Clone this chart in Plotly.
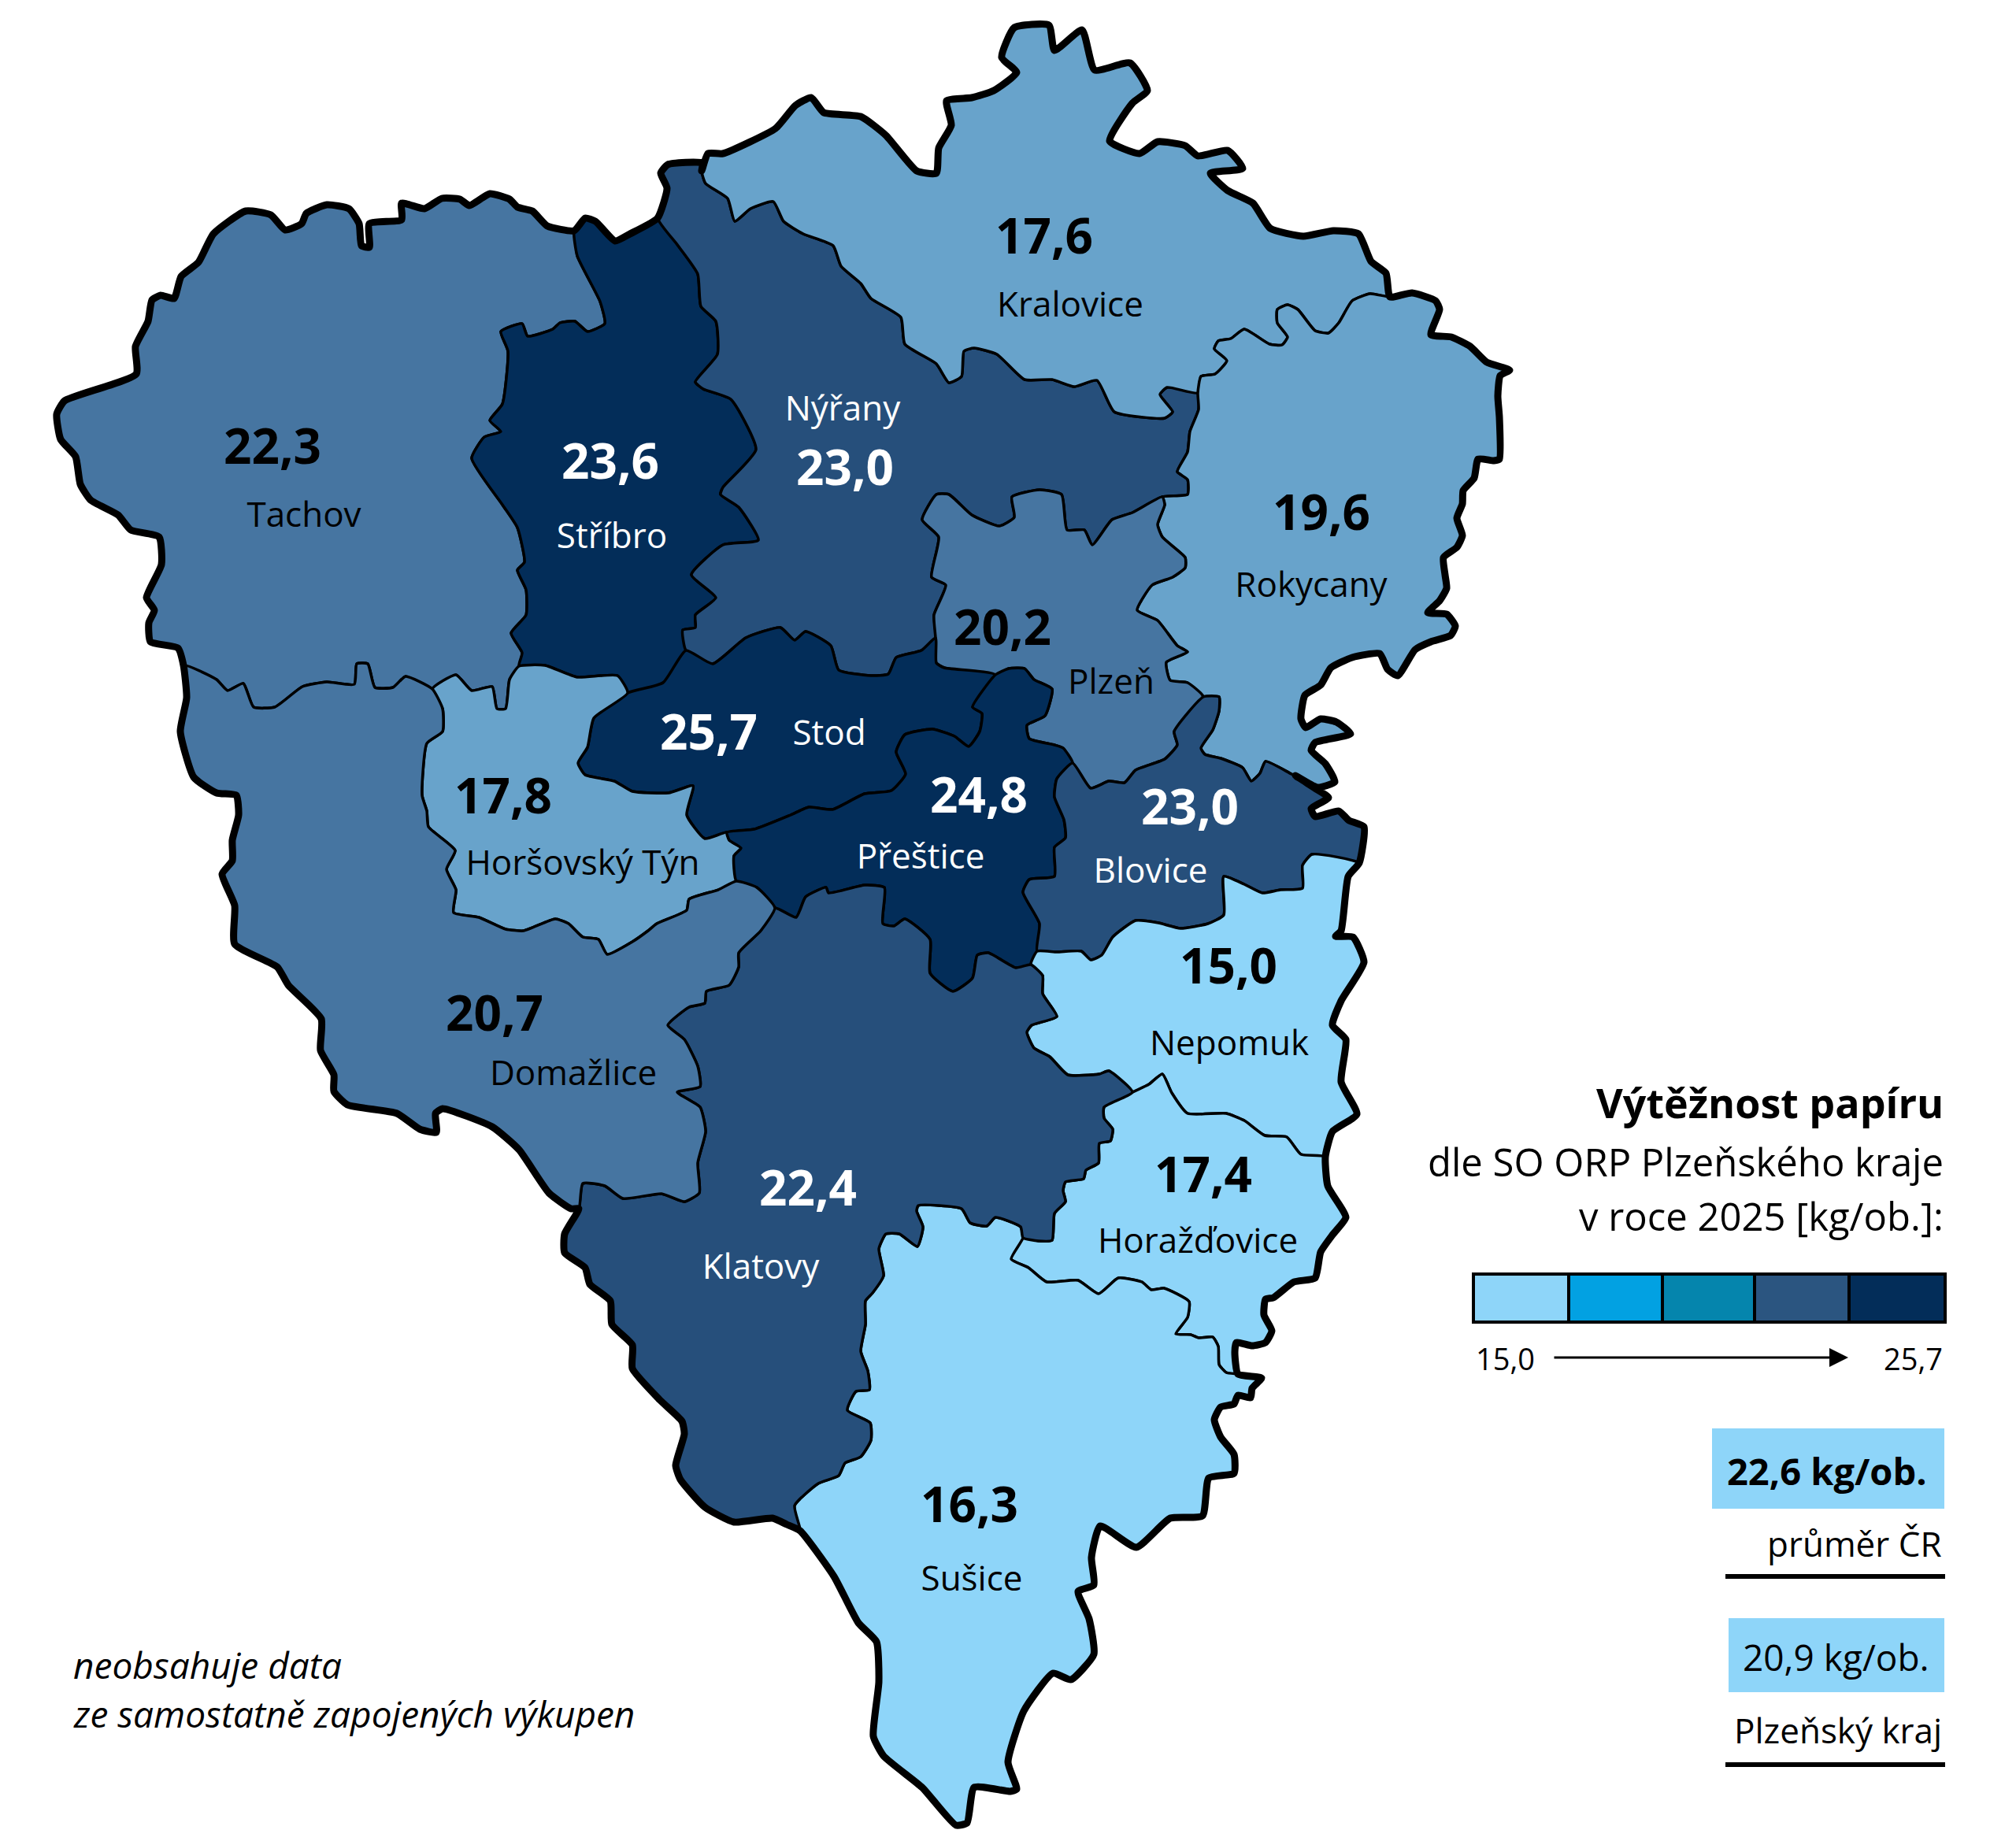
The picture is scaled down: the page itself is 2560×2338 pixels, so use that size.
import plotly.graph_objects as go

# boundaries, picture pixels, y downwards
# outer border, clockwise from the Tachov / Domazlice junction
o_tachov = [(233,845),(226,823),(191,815),(189,791),(196,775),(186,759),(205,717),(202,682),(166,673),(150,654),(115,635),(102,615),(96,580),(77,558),(72,526),(82,509),(173,475),(172,440),(188,408),(193,381),(204,375),(221,379),(230,351),(252,333),(271,297),(312,268),(344,273),(362,292),(383,284),(389,271),(415,260),(443,265),(456,284),(459,312),(469,314),(469,284),(510,279),(510,258),(539,265),(561,252),(584,253),(596,261),(622,246),(647,253),(657,263),(676,268),(695,287),(729,293)]
o_stribro = [(729,293),(743,277),(756,281),(781,306),(800,297),(835,277)]
o_nyrany = [(835,277),(847,239),(839,220),(848,209),(892,207),(891,217)]
o_kralovice = [(891,217),(899,195),(918,195),(985,163),(1010,134),(1030,124),(1046,143),(1093,148),(1125,172),(1164,217),(1189,220),(1192,188),(1208,159),(1202,128),(1234,124),(1262,115),(1291,92),(1272,73),(1288,35),(1332,32),(1339,64),(1374,38),(1390,89),(1435,80),(1457,115),(1438,131),(1409,179),(1447,195),(1470,180),(1505,185),(1521,198),(1559,191),(1578,214),(1537,220),(1559,242),(1591,258),(1613,290),(1655,300),(1693,293),(1725,297),(1741,332),(1760,347),(1765,377)]
o_rokycany = [(1765,377),(1793,372),(1823,382),(1828,393),(1817,425),(1843,428),(1867,440),(1888,460),(1917,470),(1905,477),(1902,503),(1904,530),(1904,583),(1897,585),(1877,583),(1872,607),(1858,623),(1857,640),(1850,658),(1857,680),(1850,695),(1833,708),(1835,730),(1837,747),(1828,763),(1813,778),(1837,780),(1848,795),(1842,807),(1817,815),(1797,825),(1775,858),(1762,850),(1752,830),(1717,835),(1690,848),(1677,870),(1657,883),(1652,913),(1658,924),(1677,913),(1697,917),(1715,932),(1670,943),(1665,953),(1683,970),(1695,993),(1673,1000)]
o_blovice = [(1673,1000),(1645,985),(1673,1003),(1687,1013),(1665,1027),(1670,1037),(1700,1030),(1713,1042),(1732,1050),(1726,1096)]
o_nepomuk = [(1726,1096),(1712,1113),(1703,1182),(1696,1189),(1718,1190),(1732,1222),(1703,1271),(1692,1302),(1709,1320),(1703,1374),(1723,1415),(1692,1437),(1683,1469)]
o_horazdovice = [(1683,1469),(1686,1506),(1709,1546),(1693,1567),(1677,1590),(1670,1623),(1643,1628),(1617,1648),(1607,1650),(1605,1670),(1615,1690),(1607,1705),(1590,1709),(1570,1705),(1568,1717),(1572,1745)]
o_susice = [(1572,1745),(1602,1750),(1590,1763),(1588,1775),(1572,1772),(1567,1783),(1550,1787),(1542,1803),(1550,1825),(1567,1847),(1567,1871),(1535,1877),(1527,1925),(1486,1928),(1443,1965),(1397,1938),(1386,1978),(1389,2013),(1369,2021),(1383,2056),(1389,2101),(1360,2133),(1337,2125),(1300,2173),(1280,2238),(1291,2272),(1283,2275),(1237,2270),(1228,2315),(1214,2318),(1171,2270),(1122,2230),(1109,2205),(1116,2136),(1113,2085),(1090,2061),(1059,2002),(1016,1944)]
o_klatovy = [(1016,1944),(999,1936),(981,1928),(932,1933),(895,1914),(864,1879),(858,1861),(869,1821),(866,1805),(838,1778),(803,1738),(803,1708),(777,1682),(775,1652),(749,1631),(743,1610),(717,1591),(717,1567),(735,1535)]
o_domazlice = [(735,1535),(725,1535),(697,1515),(659,1460),(625,1431),(562,1408),(553,1414),(554,1438),(533,1434),(504,1414),(441,1403),(424,1386),(424,1365),(407,1334),(408,1294),(366,1251),(352,1228),(298,1199),(298,1150),(282,1110),(295,1093),(295,1067),(303,1035),(300,1010),(275,1007),(246,987),(229,929),(237,886),(233,845)]

# borders between the districts
tach_dom = [(233,845),(275,863),(289,877),(309,868),(322,898),(349,898),(384,872),(415,866),(450,869),(453,843),(467,843),(476,873),(499,873),(515,859),(549,875)]
tach_hor = [(549,875),(579,857),(599,877),(625,872),(631,900),(642,900),(647,863),(659,846)]
tach_str = [(659,846),(663,829),(649,804),(668,781),(668,749),(657,724),(666,714),(657,670),(638,641),(599,582),(615,555),(636,548),(622,534),(638,513),(645,446),(636,421),(663,411),(670,427),(702,418),(711,410),(730,408),(746,421),(768,411),(762,383),(733,325),(729,293)]
str_nyr = [(835,277),(861,312),(886,348),(890,389),(909,408),(911,450),(883,485),(893,494),(928,507),(960,571),(918,619),(915,628),(938,644),(963,686),(918,692),(878,730),(909,759),(883,781),(883,797),(867,800),(871,826)]
str_sto = [(871,826),(842,867),(797,880)]
str_hor = [(797,880),(784,858),(733,860),(692,845),(659,846)]
nyr_kra = [(891,217),(896,233),(924,252),(933,281),(953,265),(982,256),(995,281),(1020,297),(1058,312),(1068,338),(1093,360),(1106,379),(1144,403),(1149,437),(1189,462),(1205,486),(1221,478),(1224,446),(1237,442),(1266,450),(1301,482),(1336,482),(1364,491),(1393,483),(1415,523),(1479,531),(1489,523),(1473,501),(1482,492),(1521,499)]
kra_rok = [(1521,499),(1525,478),(1543,475),(1558,458),(1542,443),(1547,433),(1563,430),(1580,418),(1612,437),(1628,438),(1635,428),(1622,410),(1622,393),(1635,387),(1648,393),(1670,420),(1687,423),(1700,410),(1717,382),(1740,373),(1765,377)]
nyr_rok = [(1521,499),(1522,520),(1511,548),(1508,574),(1495,599),(1508,609),(1508,628),(1476,631)]
nyr_plz = [(1476,631),(1438,651),(1412,660),(1387,692),(1377,673),(1355,673),(1348,628),(1320,622),(1285,631),(1288,657),(1269,668),(1234,654),(1205,628),(1189,628),(1171,660),(1192,682),(1183,733),(1201,743),(1186,781),(1188,810)]
nyr_sto = [(1188,810),(1170,826),(1138,835),(1128,856),(1106,858),(1065,851),(1055,820),(1023,802),(1009,813),(991,797),(947,810),(905,843),(871,826)]
sto_plz = [(1188,810),(1189,842),(1199,848),(1264,857)]
sto_pre = [(1264,857),(1235,898),(1247,906),(1244,929),(1230,948),(1212,935),(1184,926),(1149,933),(1138,955),(1150,983),(1132,1004),(1098,1008),(1057,1028),(1027,1025),(1004,1035),(958,1053),(923,1057)]
sto_hor = [(797,880),(754,912),(746,949),(734,969),(743,984),(780,992),(803,1005),(849,1007),(880,998),(872,1035),(895,1065),(923,1057)]
hor_pre = [(923,1057),(926,1067),(941,1077),(932,1087),(935,1119)]
hor_dom = [(935,1119),(912,1130),(875,1142),(872,1156),(834,1173),(823,1182),(803,1196),(771,1212),(760,1193),(740,1190),(722,1173),(705,1167),(665,1182),(642,1180),(608,1165),(576,1159),(579,1130),(567,1104),(578,1080),(544,1050),(542,1030),(536,1010),(542,944),(562,929),(562,900),(549,875)]
pre_dom = [(935,1119),(961,1127),(984,1153)]
dom_kla = [(984,1153),(966,1182),(938,1210),(938,1228),(926,1251),(897,1259),(895,1274),(875,1279),(848,1302),(869,1320),(886,1354),(889,1380),(860,1387),(889,1406),(896,1437),(886,1477),(888,1515),(869,1526),(840,1516),(791,1522),(768,1506),(740,1503),(735,1535)]
kla_pre = [(984,1153),(1011,1165),(1023,1139),(1049,1127),(1052,1134),(1098,1124),(1123,1127),(1121,1173),(1135,1176),(1149,1167),(1181,1193),(1181,1236),(1210,1259),(1235,1242),(1241,1213),(1255,1210),(1290,1229),(1309,1225)]
pre_nep = [(1309,1225),(1317,1208)]
pre_blo = [(1317,1208),(1320,1173),(1299,1133),(1307,1117),(1339,1113),(1339,1076),(1353,1064),(1351,1041),(1339,1012),(1342,989),(1362,969)]
pre_plz = [(1362,969),(1350,950),(1339,946),(1307,938),(1304,921),(1327,909),(1336,875),(1313,863),(1301,849),(1281,849),(1264,857)]
plz_blo = [(1362,969),(1385,1001),(1408,992),(1428,994),(1442,978),(1479,964),(1495,946),(1491,929),(1528,885)]
plz_rok = [(1476,631),(1479,641),(1470,666),(1476,682),(1505,708),(1505,721),(1489,733),(1463,743),(1444,775),(1470,788),(1495,820),(1508,828),(1481,841),(1486,864),(1508,867),(1528,885)]
blo_rok = [(1528,885),(1548,885),(1548,903),(1540,927),(1525,950),(1530,958),(1550,963),(1578,975),(1589,992),(1600,982),(1607,967),(1640,983),(1673,1000)]
blo_nep = [(1726,1096),(1666,1085),(1654,1099),(1654,1128),(1626,1130),(1603,1134),(1580,1123),(1554,1113),(1554,1162),(1534,1173),(1499,1179),(1471,1172),(1442,1169),(1413,1190),(1399,1213),(1385,1219),(1373,1208),(1342,1209),(1317,1208)]
kla_nep = [(1309,1225),(1324,1239),(1324,1262),(1342,1291),(1310,1302),(1304,1311),(1313,1331),(1333,1342),(1356,1365),(1396,1364),(1408,1360),(1438,1387)]
nep_hor = [(1438,1387),(1459,1377),(1476,1364),(1488,1388),(1508,1414),(1557,1414),(1580,1423),(1606,1442),(1634,1444),(1652,1466),(1683,1469)]
kla_hor = [(1438,1387),(1402,1406),(1402,1420),(1413,1434),(1410,1449),(1396,1452),(1395,1477),(1379,1486),(1376,1497),(1353,1501),(1350,1512),(1353,1526),(1339,1541),(1336,1575),(1319,1576),(1299,1572)]
kla_sus = [(1299,1572),(1296,1558),(1264,1546),(1253,1557),(1232,1553),(1221,1535),(1166,1531),(1164,1538),(1172,1558),(1165,1583),(1142,1567),(1125,1567),(1116,1586),(1122,1620),(1108,1642),(1099,1652),(1099,1682),(1093,1716),(1102,1741),(1104,1765),(1087,1767),(1076,1791),(1105,1807),(1106,1829),(1093,1850),(1073,1858),(1065,1874),(1039,1884),(1009,1912),(1016,1944)]
hor_sus = [(1299,1572),(1284,1599),(1306,1610),(1329,1628),(1369,1626),(1395,1643),(1420,1623),(1450,1628),(1462,1638),(1478,1636),(1510,1653),(1508,1673),(1493,1694),(1512,1695),(1522,1699),(1540,1698),(1547,1710),(1548,1733),(1557,1743),(1572,1745)]

def rev(arc):
    return arc[::-1]

def ring(*arcs):
    pts = []
    for a in arcs:
        pts += a[1:] if pts else a
    return pts

names = ['Tachov','Stříbro','Nýřany','Kralovice','Rokycany','Plzeň','Stod','Horšovský Týn','Přeštice','Blovice','Nepomuk','Horažďovice','Sušice','Klatovy','Domažlice']
values = [22.3,23.6,23.0,17.6,19.6,20.2,25.7,17.8,24.8,23.0,15.0,17.4,16.3,22.4,20.7]
colors = ['#4675a1','#032d59','#264f7b','#68a3cb','#68a3cb','#4675a1','#032d59','#68a3cb','#032d59','#264f7b','#8ed5f9','#8ed5f9','#8ed5f9','#264f7b','#4675a1']
text_colors = ['black','white','white','black','black','black','white','black','white','white','black','black','black','white','black']
value_x = [346,775,1073,1326,1678,1273,900,639,1243,1511,1560,1528,1231,1026,628]
value_y = [573,592,600,306,657,803,936,1017,1016,1031,1233,1498,1917,1515,1293]
name_x = [386,777,1070,1359,1665,1411,1053,740,1169,1461,1561,1521,1234,966,728]
name_y = [658,685,523,391,747,870,935,1100,1092,1110,1329,1580,2009,1613,1367]

rings = [
    ring(o_tachov, rev(tach_str), rev(tach_hor), rev(tach_dom)),
    ring(o_stribro, str_nyr, str_sto, str_hor, tach_str),
    ring(o_nyrany, nyr_kra, nyr_rok, nyr_plz, nyr_sto, rev(str_nyr)),
    ring(o_kralovice, rev(kra_rok), rev(nyr_kra)),
    ring(o_rokycany, rev(blo_rok), rev(plz_rok), rev(nyr_rok), kra_rok),
    ring(plz_rok, rev(plz_blo), pre_plz, rev(sto_plz), rev(nyr_plz)),
    ring(rev(nyr_sto), sto_plz, sto_pre, rev(sto_hor), rev(str_sto)),
    ring(str_hor, rev(tach_hor), rev(hor_dom), rev(hor_pre), rev(sto_hor)),
    ring(rev(sto_pre), rev(pre_plz), rev(pre_blo), rev(pre_nep), rev(kla_pre), rev(pre_dom), rev(hor_pre)),
    ring(o_blovice, blo_nep, pre_blo, plz_blo, blo_rok),
    ring(o_nepomuk, rev(nep_hor), rev(kla_nep), pre_nep, rev(blo_nep)),
    ring(o_horazdovice, rev(hor_sus), rev(kla_hor), nep_hor),
    ring(o_susice, rev(kla_sus), hor_sus),
    ring(o_klatovy, rev(dom_kla), kla_pre, kla_nep, kla_hor, kla_sus),
    ring(o_domazlice, tach_dom, rev(hor_dom), pre_dom, dom_kla),
]
outline = ring(o_tachov, o_stribro, o_nyrany, o_kralovice, o_rokycany, o_blovice, o_nepomuk, o_horazdovice, o_susice, o_klatovy, o_domazlice)

scale_colors = ['#8ed5f9','#02a1e2','#0585ad','#2b5580','#032d59']
scale_edges = [1871,1992,2111,2228,2348,2470]

FONT = 'Open Sans'
SMOOTH = 0.5

fig = go.Figure()
for name, pts, col in zip(names, rings, colors):
    fig.add_trace(go.Scatter(x=[p[0] for p in pts], y=[p[1] for p in pts], mode='lines', name=name,
                             fill='toself', fillcolor=col,
                             line=dict(color='black', width=3.5, shape='spline', smoothing=SMOOTH)))
fig.add_trace(go.Scatter(x=[p[0] for p in outline], y=[p[1] for p in outline], mode='lines',
                         line=dict(color='black', width=9, shape='spline', smoothing=SMOOTH)))

fig.add_trace(go.Scatter(x=value_x, y=value_y, mode='text',
                         text=[f'{v:.1f}'.replace('.', ',') for v in values],
                         textfont=dict(family=FONT, size=62, color=text_colors, weight=700)))
fig.add_trace(go.Scatter(x=name_x, y=name_y, mode='text', text=names,
                         textfont=dict(family=FONT, size=44, color=text_colors)))

# legend
shapes = []
for i, col in enumerate(scale_colors):
    shapes.append(dict(type='rect', x0=scale_edges[i], x1=scale_edges[i + 1], y0=1618, y1=1679,
                       fillcolor=col, line=dict(color='black', width=4)))
shapes.append(dict(type='rect', x0=2174, x1=2469, y0=1814, y1=1916, fillcolor='#8ed5f9', line_width=0))
shapes.append(dict(type='rect', x0=2195, x1=2469, y0=2055, y1=2149, fillcolor='#8ed5f9', line_width=0))
shapes.append(dict(type='line', x0=2191, x1=2470, y0=2002, y1=2002, line=dict(color='black', width=6)))
shapes.append(dict(type='line', x0=2191, x1=2470, y0=2241, y1=2241, line=dict(color='black', width=6)))

def label(x, y, text, size, anchor='right', **kw):
    return dict(x=x, y=y, text=text, showarrow=False, xanchor=anchor, yanchor='middle',
                font=dict(family=FONT, size=size, color='black'), **kw)

annotations = [
    label(2470, 1399, '<b>Výtěžnost papíru</b>', 52),
    label(2470, 1475, 'dle SO ORP Plzeňského kraje', 49),
    label(2470, 1544, 'v roce 2025 [kg/ob.]:', 49),
    label(1911, 1725, '15,0', 38, anchor='center'),
    label(2429, 1725, '25,7', 38, anchor='center'),
    label(2320, 1868, '<b>22,6 kg/ob.</b>', 47, anchor='center'),
    label(2468, 1960, 'průměr ČR', 44),
    label(2331, 2104, '20,9 kg/ob.', 46, anchor='center'),
    label(2468, 2197, 'Plzeňský kraj', 44),
    label(91, 2114, '<i>neobsahuje data</i>', 46, anchor='left'),
    label(91, 2176, '<i>ze samostatně zapojených výkupen</i>', 46, anchor='left'),
    dict(x=2347, y=1724, ax=1972, ay=1724, xref='x', yref='y', axref='x', ayref='y', text='',
         showarrow=True, arrowhead=2, arrowsize=1.6, arrowwidth=3, arrowcolor='black'),
]

fig.update_layout(width=2560, height=2338, margin=dict(l=0, r=0, t=0, b=0),
                  paper_bgcolor='white', plot_bgcolor='white', showlegend=False,
                  hovermode=False, shapes=shapes, annotations=annotations,
                  xaxis=dict(range=[0, 2560], visible=False, fixedrange=True),
                  yaxis=dict(range=[2338, 0], visible=False, fixedrange=True))
fig.write_html('out.html', config=dict(displayModeBar=False),
               post_script="document.body.style.margin='0';document.body.style.overflow='hidden';")
